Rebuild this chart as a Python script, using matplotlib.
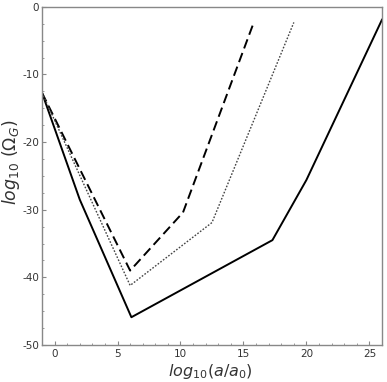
import matplotlib.pyplot as plt
from matplotlib.ticker import MultipleLocator

plt.rcParams['axes.unicode_minus'] = False

# log10(a/a0) vs log10(Omega_G) for three cases
x_solid = [-1, 2, 6.1, 17.3, 20, 26]
y_solid = [-12.7, -28.5, -45.9, -34.5, -25.6, -1.9]

x_dash = [-1, 6.0, 10.2, 15.8]
y_dash = [-12.7, -39.0, -30.4, -2.4]

x_dot = [-1, 6.0, 12.5, 19.0]
y_dot = [-12.7, -41.2, -31.9, -2.3]

fig = plt.figure(figsize=(3.87, 3.82), dpi=100)
ax = fig.add_axes([0.1085, 0.097, 0.8785, 0.885])

ax.plot(x_solid, y_solid, color='black', lw=1.4, solid_joinstyle='round')
ax.plot(x_dash, y_dash, color='black', lw=1.4, dashes=(5, 2.5))
ax.plot(x_dot, y_dot, color='#444444', lw=1.0, dashes=(1.2, 1.2))

ax.set_xlim(-1, 26)
ax.set_ylim(-50, 0)
ax.xaxis.set_major_locator(MultipleLocator(5))
ax.xaxis.set_minor_locator(MultipleLocator(1))
ax.yaxis.set_major_locator(MultipleLocator(10))
ax.yaxis.set_minor_locator(MultipleLocator(2.5))

for s in ax.spines.values():
    s.set_color('#888888')
    s.set_linewidth(1.0)

ax.tick_params(which='both', direction='in', colors='#888888',
               labelcolor='#333333', labelsize=7.5)
ax.tick_params(which='major', length=3)
ax.tick_params(which='minor', length=1.5)
ax.tick_params(axis='x', pad=3)
ax.tick_params(axis='y', pad=2)

ax.set_xlabel(r'$log_{10}(a/a_0)$', fontsize=11.5, color='#333333')
ax.set_ylabel(r'$log_{10}\ (\Omega_G)$', fontsize=12.5, color='#333333')
ax.xaxis.set_label_coords(0.495, -0.05)
ax.yaxis.set_label_coords(-0.06, 0.54)

plt.savefig('out.png', dpi=100, facecolor='white')
plt.close()
